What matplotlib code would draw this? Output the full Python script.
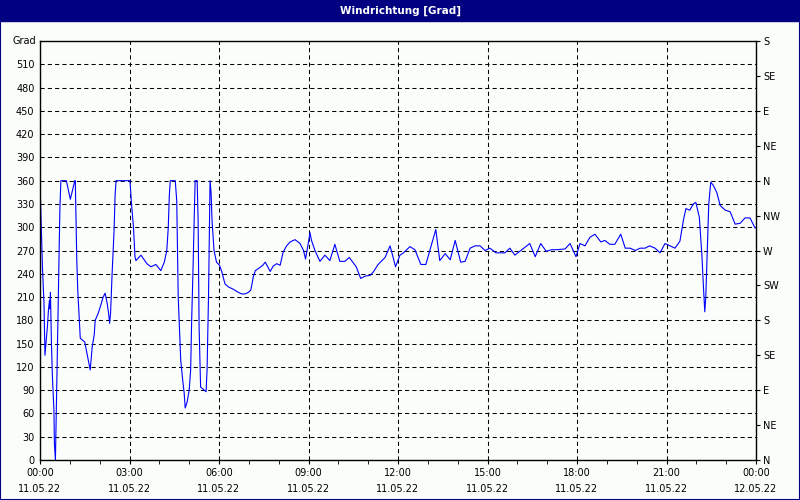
import matplotlib
matplotlib.use("Agg")
import matplotlib.pyplot as plt
from matplotlib.ticker import MultipleLocator
from matplotlib.transforms import blended_transform_factory

# minutes after 11.05.22 00:00 and wind direction in degrees
minutes = [1, 3, 5, 8, 10, 12, 15, 17, 19, 20, 21, 23, 25, 28, 29, 31, 32, 34, 36, 38,
           40, 42, 53, 61, 70, 71, 74, 76, 79, 81, 90, 94, 98, 101, 105, 109, 111, 117,
           122, 127, 131, 135, 138, 140, 142, 145, 149, 151, 153, 181, 184, 188, 191, 193,
           203, 215, 223, 233, 243, 250, 255, 258, 260, 262, 272, 275, 278, 283, 287, 290,
           292, 296, 300, 303, 305, 307, 310, 312, 316, 318, 320, 323, 334, 336, 339, 341,
           342, 344, 346, 350, 355, 361, 365, 372, 379, 389, 399, 406, 412, 419, 424, 429,
           433, 442, 448, 453, 463, 469, 476, 483, 489, 496, 503, 513, 523, 530, 534, 540,
           543, 546, 553, 563, 573, 583, 593, 603, 613, 622, 636, 645, 654, 664, 670, 680,
           694, 704, 709, 715, 724, 731, 744, 754, 766, 776, 784, 796, 804, 815, 825, 835,
           846, 855, 865, 875, 885, 895, 905, 917, 925, 935, 945, 955, 965, 975, 985, 996,
           1007, 1018, 1029, 1039, 1056, 1066, 1078, 1086, 1096, 1106, 1116, 1128, 1136,
           1146, 1156, 1168, 1177, 1187, 1197, 1207, 1217, 1226, 1237, 1247, 1257, 1267,
           1277, 1287, 1294, 1299, 1307, 1314, 1319, 1326, 1331, 1334, 1337, 1339, 1342,
           1345, 1349, 1354, 1361, 1368, 1378, 1388, 1398, 1408, 1418, 1428, 1438]
degrees = [336, 291, 247, 202, 135, 150, 173, 193, 206, 195, 216, 150, 107, 64, 21, 0, 34,
           107, 180, 253, 324, 360, 360, 336, 360, 360, 257, 218, 180, 157, 152, 139, 126,
           116, 146, 161, 180, 189, 199, 210, 215, 202, 189, 176, 190, 240, 296, 341, 360,
           360, 330, 300, 262, 257, 264, 253, 249, 252, 244, 255, 270, 300, 340, 360, 360,
           334, 210, 129, 103, 86, 67, 75, 90, 116, 180, 227, 309, 360, 360, 309, 171, 94,
           88, 116, 214, 309, 360, 345, 309, 270, 255, 251, 244, 227, 223, 220, 216, 214,
           214, 216, 219, 236, 244, 248, 251, 255, 243, 250, 253, 251, 268, 276, 281, 284,
           279, 270, 259, 281, 293, 283, 270, 256, 264, 257, 278, 256, 256, 261, 249, 234,
           237, 238, 242, 252, 261, 276, 264, 249, 264, 267, 275, 271, 252, 252, 270, 297,
           257, 266, 258, 283, 255, 256, 273, 276, 276, 270, 273, 267, 267, 267, 273, 264,
           269, 274, 279, 262, 279, 269, 271, 271, 272, 279, 262, 279, 276, 287, 291, 281,
           283, 278, 278, 291, 273, 273, 270, 273, 273, 276, 273, 267, 279, 276, 273, 282,
           309, 324, 322, 330, 332, 313, 266, 227, 191, 210, 270, 330, 358, 354, 345, 328,
           322, 320, 304, 305, 312, 312, 299]

time_labels = ["00:00\n11.05.22", "03:00\n11.05.22", "06:00\n11.05.22", "09:00\n11.05.22",
               "12:00\n11.05.22", "15:00\n11.05.22", "18:00\n11.05.22", "21:00\n11.05.22",
               "00:00\n12.05.22"]
compass = ["N", "NE", "E", "SE", "S", "SW", "W", "NW", "N", "NE", "E", "SE", "S"]

bg = "#fafdfa"
navy = "#000080"

fig = plt.figure(figsize=(8, 5), dpi=100, facecolor=bg)
fig.patches.append(plt.Rectangle((0, 0.959), 1, 0.041, transform=fig.transFigure,
                                 color=navy, zorder=0))
fig.patches.append(plt.Rectangle((0.0006, 0.001), 0.9988, 0.998, transform=fig.transFigure,
                                 fill=False, edgecolor=navy, linewidth=1.5, zorder=5))
fig.text(0.5, 0.979, "Windrichtung [Grad]", color="white", fontsize=7.5,
         fontweight="bold", ha="center", va="center")

ax = fig.add_axes([0.05, 0.08, 0.895, 0.838], facecolor=bg)
ax.plot(minutes, degrees, color="#0000ff", linewidth=0.8)

ax.set_xlim(0, 1440)
ax.set_ylim(0, 540)
ax.set_xticks(range(0, 1441, 180))
ax.set_xticklabels(time_labels, fontsize=7, linespacing=1.7)
ax.xaxis.set_minor_locator(MultipleLocator(60))
ax.set_yticks(range(0, 511, 30))
ax.tick_params(axis="y", length=0, pad=4, labelsize=7)
ax.tick_params(axis="x", which="both", length=3, pad=3, direction="out")

for side in ["left", "right", "top", "bottom"]:
    ax.spines[side].set_color("black")
    ax.spines[side].set_linewidth(1)

ax.grid(True, color="black", linestyle=(0, (4, 3)), linewidth=0.75)
ax.set_axisbelow(True)

trans = blended_transform_factory(ax.transAxes, ax.transData)
ax.text(-0.006, 540, "Grad", transform=trans, ha="right", va="center", fontsize=7)

ax2 = ax.twinx()
ax2.set_ylim(0, 540)
ax2.set_yticks(range(0, 541, 45))
ax2.set_yticklabels(compass)
ax2.tick_params(axis="y", length=3, pad=2, labelsize=7)
for side in ["left", "right", "top", "bottom"]:
    ax2.spines[side].set_visible(False)

fig.savefig("out.png", dpi=100, facecolor=bg)
